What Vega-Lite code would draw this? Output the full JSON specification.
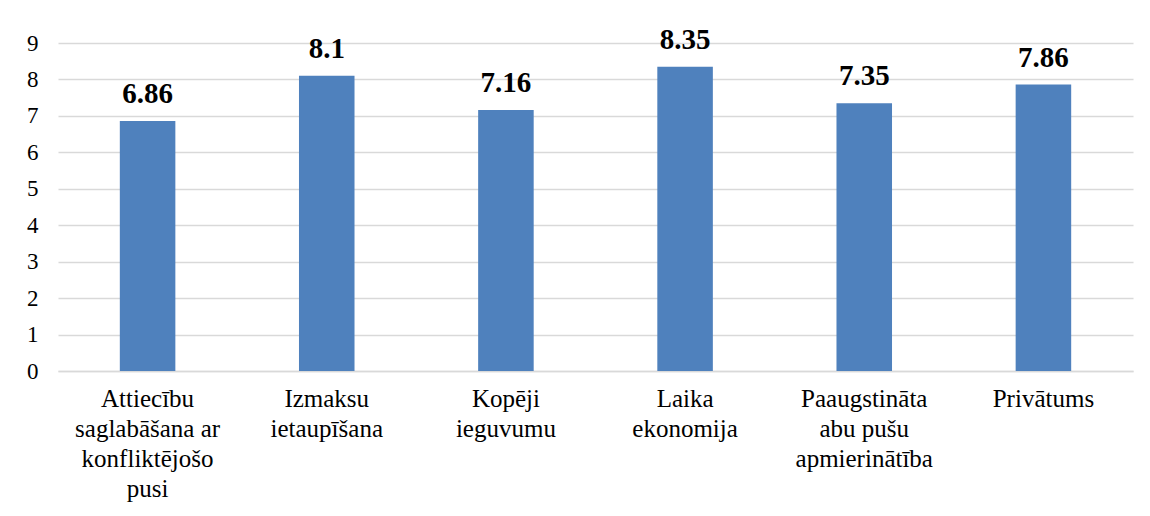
{
  "$schema": "https://vega.github.io/schema/vega-lite/v6.json",
  "width": 1075,
  "height": 328,
  "autosize": {"type": "none"},
  "padding": {"left": 58, "top": 43, "right": 17, "bottom": 145},
  "background": "white",
  "config": {
    "view": {"stroke": null}
  },
  "data": {
    "values": [
      {"category": "Attiecību\nsaglabāšana ar\nkonfliktējošo\npusi", "value": 6.86},
      {"category": "Izmaksu\nietaupīšana", "value": 8.1},
      {"category": "Kopēji\nieguvumu", "value": 7.16},
      {"category": "Laika\nekonomija", "value": 8.35},
      {"category": "Paaugstināta\nabu pušu\napmierinātība", "value": 7.35},
      {"category": "Privātums", "value": 7.86}
    ]
  },
  "encoding": {
    "x": {
      "field": "category",
      "type": "nominal",
      "sort": null,
      "scale": {"paddingInner": 0.69, "paddingOuter": 0.345},
      "axis": {
        "title": null,
        "labelAngle": 0,
        "labelExpr": "split(datum.label, '\\n')",
        "labelFont": "Liberation Serif",
        "labelFontSize": 25,
        "labelLineHeight": 30,
        "labelColor": "black",
        "labelPadding": 15,
        "labelLimit": 0,
        "ticks": false,
        "domainColor": "#d9d9d9",
        "domainWidth": 1.5
      }
    },
    "y": {
      "field": "value",
      "type": "quantitative",
      "scale": {"domain": [0, 9], "nice": false},
      "axis": {
        "title": null,
        "values": [0, 1, 2, 3, 4, 5, 6, 7, 8, 9],
        "labelFont": "Liberation Serif",
        "labelFontSize": 23,
        "labelColor": "black",
        "labelPadding": 20,
        "ticks": false,
        "domain": false,
        "gridColor": "#d9d9d9",
        "gridWidth": 1.5
      }
    }
  },
  "layer": [
    {"mark": {"type": "bar", "color": "#4F81BD"}},
    {
      "mark": {"type": "text", "baseline": "alphabetic", "dy": -18, "fontSize": 29, "fontWeight": "bold", "font": "Liberation Serif", "color": "black"},
      "encoding": {"text": {"field": "value", "type": "quantitative"}}
    }
  ]
}
